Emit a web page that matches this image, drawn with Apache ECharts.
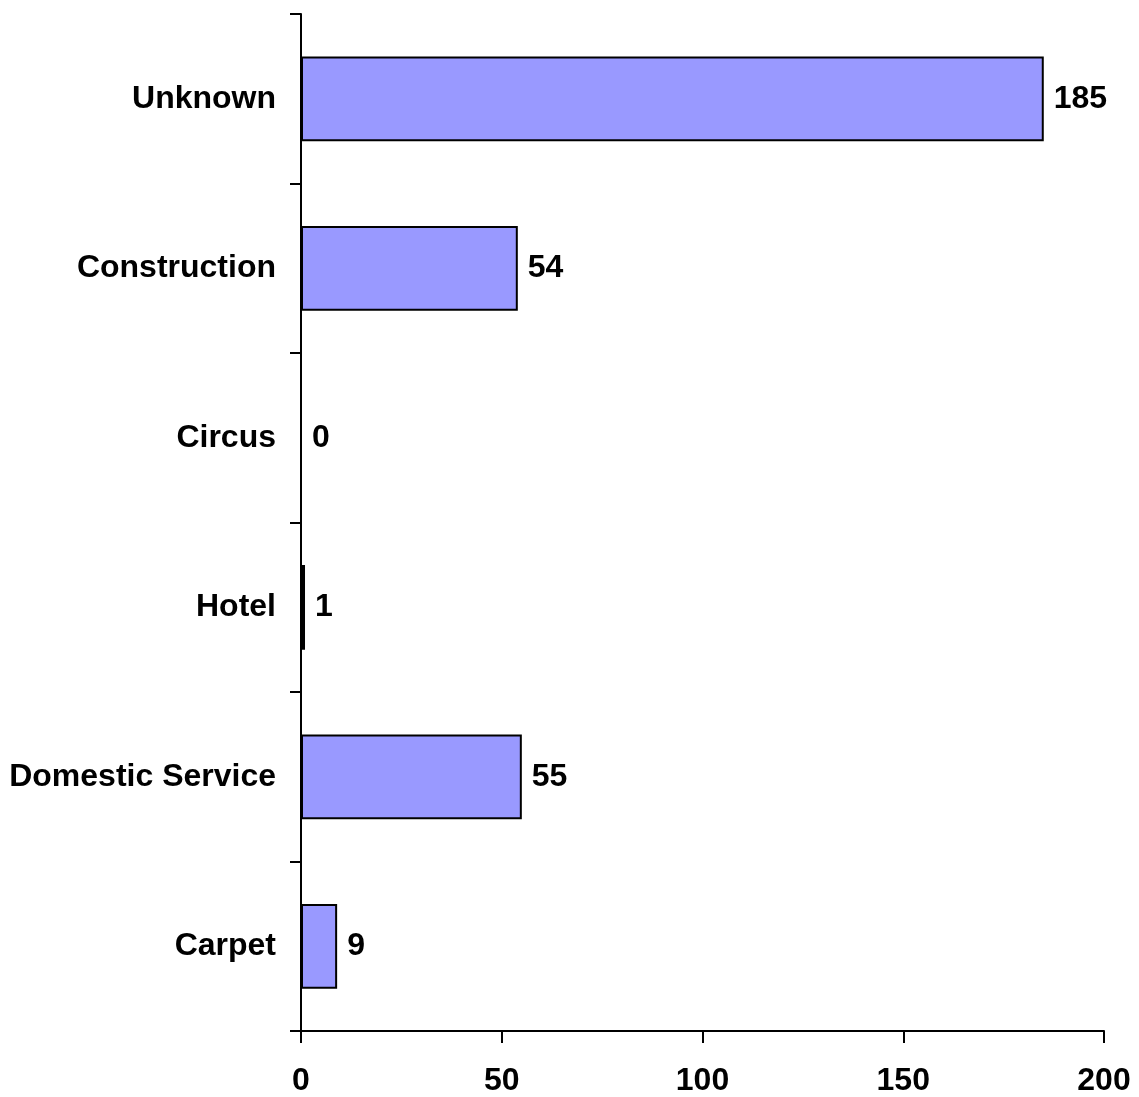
<!DOCTYPE html>
<html>
<head>
<meta charset="utf-8">
<script src="https://cdn.jsdelivr.net/npm/echarts@6/dist/echarts.min.js"></script>
<style>
html,body{margin:0;padding:0;background:#fff;}
#chart{width:1139px;height:1097px;}
</style>
</head>
<body>
<div id="chart"></div>
<script>
var categories = ['Carpet', 'Domestic Service', 'Hotel', 'Circus', 'Construction', 'Unknown'];
var values = [9, 55, 1, 0, 54, 185];
var xTicks = [0, 50, 100, 150, 200];

var font = '"Liberation Sans", Arial, sans-serif';
var chart = echarts.init(document.getElementById('chart'));
chart.setOption({
  animation: false,
  backgroundColor: '#ffffff',
  grid: {left: 301, right: 35, top: 14, bottom: 62, containLabel: false},
  xAxis: {
    type: 'value',
    min: xTicks[0],
    max: xTicks[xTicks.length - 1],
    interval: 50,
    axisLine: {show: true, lineStyle: {color: '#000', width: 2}},
    axisTick: {show: true, length: 12, lineStyle: {color: '#000', width: 2}},
    splitLine: {show: false},
    axisLabel: {color: '#000', fontFamily: font, fontWeight: 'bold', fontSize: 32, margin: 34}
  },
  yAxis: {
    type: 'category',
    data: categories,
    axisLine: {show: true, lineStyle: {color: '#000', width: 2}},
    axisTick: {show: true, length: 11, lineStyle: {color: '#000', width: 2}},
    axisLabel: {color: '#000', fontFamily: font, fontWeight: 'bold', fontSize: 32, margin: 25}
  },
  series: [{
    type: 'bar',
    data: values,
    barCategoryGap: '50%',
    itemStyle: {color: '#9999FF', borderColor: '#000', borderWidth: 2},
    label: {
      show: true, position: 'right', distance: 10,
      color: '#000', fontFamily: font, fontWeight: 'bold', fontSize: 32
    }
  }]
});
</script>
</body>
</html>
